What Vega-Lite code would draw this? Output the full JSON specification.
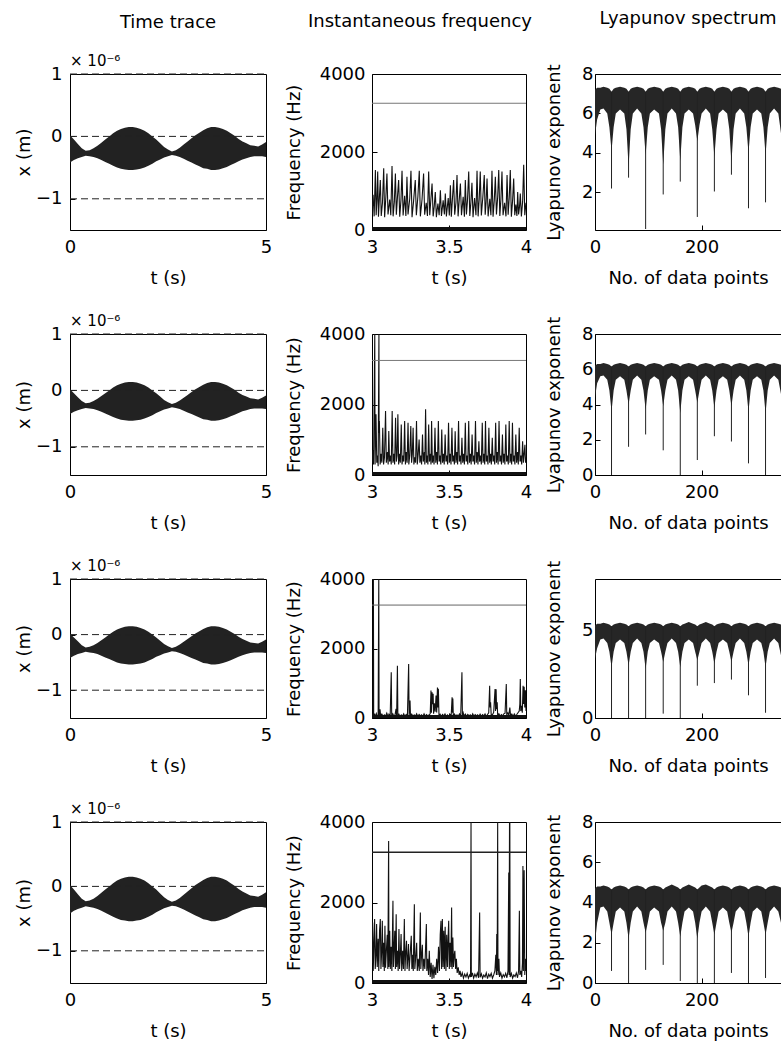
{
"$schema": "https://vega.github.io/schema/vega-lite/v6.json",
"background": "white",
"padding": {"left": 14, "top": 9, "right": 0, "bottom": 2},
"config": {
 "font": "DejaVu Sans",
 "view": {"stroke": "#000", "strokeWidth": 1},
 "axis": {"domain": false, "grid": false, "ticks": true, "tickSize": -5, "tickColor": "#000", "tickWidth": 1, "labelFont": "DejaVu Sans", "labelFontSize": 18, "labelColor": "#000", "titleFont": "DejaVu Sans", "titleFontSize": 18, "titleFontWeight": "normal", "titleColor": "#000", "labelOverlap": false, "labelFlush": false},
 "axisX": {"labelPadding": 13, "minExtent": 26, "maxExtent": 26, "titlePadding": 13},
 "title": {"font": "DejaVu Sans", "fontSize": 18, "fontWeight": "normal", "color": "#000", "frame": "group", "anchor": "middle"}
},
"datasets": {
 "trace": [
  {"t":0.0,"hi":0.02,"lo":-0.42},{"t":0.1,"hi":-0.05,"lo":-0.38},{"t":0.2,"hi":-0.12,"lo":-0.35},{"t":0.3,"hi":-0.19,"lo":-0.33},{"t":0.4,"hi":-0.23,"lo":-0.31},{"t":0.5,"hi":-0.22,"lo":-0.32},{"t":0.6,"hi":-0.19,"lo":-0.33},{"t":0.7,"hi":-0.15,"lo":-0.35},{"t":0.8,"hi":-0.10,"lo":-0.38},{"t":0.9,"hi":-0.05,"lo":-0.41},
  {"t":1.0,"hi":0.00,"lo":-0.44},{"t":1.1,"hi":0.05,"lo":-0.47},{"t":1.2,"hi":0.09,"lo":-0.50},{"t":1.3,"hi":0.12,"lo":-0.52},{"t":1.4,"hi":0.14,"lo":-0.53},{"t":1.5,"hi":0.15,"lo":-0.54},{"t":1.6,"hi":0.15,"lo":-0.54},{"t":1.7,"hi":0.14,"lo":-0.53},{"t":1.8,"hi":0.12,"lo":-0.52},{"t":1.9,"hi":0.09,"lo":-0.50},
  {"t":2.0,"hi":0.05,"lo":-0.47},{"t":2.1,"hi":0.00,"lo":-0.44},{"t":2.2,"hi":-0.05,"lo":-0.40},{"t":2.3,"hi":-0.11,"lo":-0.37},{"t":2.4,"hi":-0.17,"lo":-0.34},{"t":2.5,"hi":-0.21,"lo":-0.32},{"t":2.6,"hi":-0.24,"lo":-0.30},{"t":2.7,"hi":-0.22,"lo":-0.31},{"t":2.8,"hi":-0.18,"lo":-0.33},{"t":2.9,"hi":-0.13,"lo":-0.36},
  {"t":3.0,"hi":-0.08,"lo":-0.39},{"t":3.1,"hi":-0.03,"lo":-0.42},{"t":3.2,"hi":0.02,"lo":-0.45},{"t":3.3,"hi":0.06,"lo":-0.48},{"t":3.4,"hi":0.10,"lo":-0.51},{"t":3.5,"hi":0.13,"lo":-0.52},{"t":3.6,"hi":0.15,"lo":-0.54},{"t":3.7,"hi":0.15,"lo":-0.54},{"t":3.8,"hi":0.14,"lo":-0.53},{"t":3.9,"hi":0.12,"lo":-0.51},
  {"t":4.0,"hi":0.09,"lo":-0.49},{"t":4.1,"hi":0.05,"lo":-0.46},{"t":4.2,"hi":0.01,"lo":-0.43},{"t":4.3,"hi":-0.04,"lo":-0.40},{"t":4.4,"hi":-0.08,"lo":-0.37},{"t":4.5,"hi":-0.11,"lo":-0.35},{"t":4.6,"hi":-0.14,"lo":-0.33},{"t":4.7,"hi":-0.15,"lo":-0.32},{"t":4.8,"hi":-0.16,"lo":-0.32},{"t":4.9,"hi":-0.13,"lo":-0.32},{"t":5.0,"hi":-0.09,"lo":-0.33}
 ],
 "dash": [{"t":0,"d":1},{"t":5,"d":1},{"t":0,"d":0},{"t":5,"d":0},{"t":0,"d":-1},{"t":5,"d":-1}],
 "mult": [{"t":0,"d":1,"label":"× 10⁻⁶"}],
 "osc": [{"t":3,"f":3250},{"t":4,"f":3250}],
 "base": [{"t":3,"f":40},{"t":4,"f":40}],
 "f1": [
  {"t":3.000,"f":400},{"t":3.007,"f":900},{"t":3.014,"f":350},{"t":3.022,"f":1540},{"t":3.027,"f":380},{"t":3.032,"f":760},{"t":3.037,"f":1500},{"t":3.042,"f":340},{"t":3.048,"f":820},{"t":3.054,"f":1280},
  {"t":3.060,"f":360},{"t":3.068,"f":700},{"t":3.076,"f":1580},{"t":3.082,"f":330},{"t":3.090,"f":850},{"t":3.097,"f":1450},{"t":3.104,"f":400},{"t":3.115,"f":780},{"t":3.122,"f":380},{"t":3.130,"f":1640},
  {"t":3.137,"f":350},{"t":3.145,"f":720},{"t":3.152,"f":1450},{"t":3.158,"f":390},{"t":3.165,"f":830},{"t":3.173,"f":1280},{"t":3.180,"f":340},{"t":3.188,"f":760},{"t":3.195,"f":1520},{"t":3.202,"f":370},
  {"t":3.212,"f":880},{"t":3.220,"f":360},{"t":3.227,"f":1365},{"t":3.234,"f":400},{"t":3.245,"f":800},{"t":3.253,"f":1520},{"t":3.260,"f":330},{"t":3.270,"f":740},{"t":3.281,"f":1280},{"t":3.288,"f":380},
  {"t":3.298,"f":860},{"t":3.307,"f":1520},{"t":3.314,"f":350},{"t":3.325,"f":790},{"t":3.335,"f":1450},{"t":3.342,"f":390},{"t":3.352,"f":700},{"t":3.360,"f":360},{"t":3.368,"f":1500},{"t":3.375,"f":380},
  {"t":3.383,"f":820},{"t":3.390,"f":1190},{"t":3.397,"f":350},{"t":3.404,"f":600},{"t":3.411,"f":975},{"t":3.418,"f":330},{"t":3.428,"f":680},{"t":3.436,"f":380},{"t":3.444,"f":1020},{"t":3.451,"f":360},
  {"t":3.462,"f":760},{"t":3.470,"f":400},{"t":3.476,"f":935},{"t":3.483,"f":350},{"t":3.495,"f":820},{"t":3.502,"f":370},{"t":3.509,"f":1150},{"t":3.515,"f":340},{"t":3.522,"f":780},{"t":3.530,"f":1280},
  {"t":3.537,"f":390},{"t":3.545,"f":700},{"t":3.552,"f":1410},{"t":3.559,"f":350},{"t":3.567,"f":800},{"t":3.574,"f":1190},{"t":3.581,"f":380},{"t":3.592,"f":850},{"t":3.600,"f":340},{"t":3.606,"f":1280},
  {"t":3.613,"f":400},{"t":3.620,"f":760},{"t":3.628,"f":1500},{"t":3.635,"f":360},{"t":3.642,"f":700},{"t":3.649,"f":1210},{"t":3.656,"f":330},{"t":3.666,"f":820},{"t":3.675,"f":380},{"t":3.682,"f":1520},
  {"t":3.689,"f":350},{"t":3.696,"f":780},{"t":3.703,"f":1500},{"t":3.710,"f":370},{"t":3.720,"f":860},{"t":3.729,"f":1410},{"t":3.735,"f":390},{"t":3.741,"f":720},{"t":3.747,"f":1320},{"t":3.754,"f":350},
  {"t":3.765,"f":800},{"t":3.772,"f":380},{"t":3.779,"f":1520},{"t":3.786,"f":340},{"t":3.794,"f":760},{"t":3.801,"f":1365},{"t":3.808,"f":400},{"t":3.816,"f":840},{"t":3.823,"f":1540},{"t":3.830,"f":360},
  {"t":3.837,"f":780},{"t":3.844,"f":1500},{"t":3.851,"f":380},{"t":3.861,"f":700},{"t":3.870,"f":350},{"t":3.877,"f":1410},{"t":3.884,"f":390},{"t":3.891,"f":820},{"t":3.898,"f":1540},{"t":3.905,"f":340},
  {"t":3.913,"f":760},{"t":3.920,"f":1320},{"t":3.927,"f":380},{"t":3.934,"f":650},{"t":3.941,"f":360},{"t":3.946,"f":975},{"t":3.952,"f":400},{"t":3.958,"f":600},{"t":3.963,"f":935},{"t":3.970,"f":350},
  {"t":3.978,"f":720},{"t":3.985,"f":1670},{"t":3.992,"f":380},{"t":4.000,"f":700}
 ],
 "f2": [
  {"t":3.000,"f":350},{"t":3.006,"f":700},{"t":3.010,"f":300},{"t":3.018,"f":4000},{"t":3.020,"f":300},{"t":3.026,"f":1722},{"t":3.031,"f":350},{"t":3.036,"f":550},{"t":3.040,"f":250},{"t":3.045,"f":4000},
  {"t":3.046,"f":1200},{"t":3.048,"f":1530},{"t":3.053,"f":300},{"t":3.059,"f":600},{"t":3.064,"f":350},{"t":3.070,"f":1340},{"t":3.075,"f":300},{"t":3.081,"f":500},{"t":3.088,"f":1818},{"t":3.093,"f":350},
  {"t":3.100,"f":650},{"t":3.105,"f":300},{"t":3.109,"f":1250},{"t":3.114,"f":380},{"t":3.120,"f":550},{"t":3.125,"f":300},{"t":3.131,"f":1818},{"t":3.136,"f":350},{"t":3.142,"f":600},{"t":3.147,"f":300},
  {"t":3.153,"f":1627},{"t":3.158,"f":380},{"t":3.163,"f":550},{"t":3.168,"f":1722},{"t":3.173,"f":300},{"t":3.179,"f":600},{"t":3.184,"f":350},{"t":3.190,"f":1435},{"t":3.195,"f":300},{"t":3.201,"f":550},
  {"t":3.206,"f":380},{"t":3.212,"f":1531},{"t":3.217,"f":300},{"t":3.223,"f":650},{"t":3.228,"f":350},{"t":3.234,"f":1483},{"t":3.239,"f":300},{"t":3.245,"f":550},{"t":3.252,"f":1388},{"t":3.257,"f":350},
  {"t":3.262,"f":600},{"t":3.267,"f":1340},{"t":3.272,"f":300},{"t":3.278,"f":500},{"t":3.283,"f":350},{"t":3.289,"f":1531},{"t":3.294,"f":300},{"t":3.300,"f":600},{"t":3.306,"f":1005},{"t":3.311,"f":350},
  {"t":3.317,"f":550},{"t":3.322,"f":300},{"t":3.328,"f":1148},{"t":3.333,"f":380},{"t":3.340,"f":650},{"t":3.343,"f":300},{"t":3.348,"f":1866},{"t":3.353,"f":350},{"t":3.358,"f":550},{"t":3.363,"f":300},
  {"t":3.368,"f":1435},{"t":3.373,"f":380},{"t":3.380,"f":600},{"t":3.383,"f":300},{"t":3.387,"f":1531},{"t":3.392,"f":350},{"t":3.398,"f":550},{"t":3.403,"f":300},{"t":3.409,"f":1340},{"t":3.414,"f":350},
  {"t":3.420,"f":650},{"t":3.425,"f":300},{"t":3.431,"f":1531},{"t":3.436,"f":380},{"t":3.442,"f":550},{"t":3.447,"f":300},{"t":3.453,"f":1290},{"t":3.458,"f":350},{"t":3.464,"f":600},{"t":3.469,"f":300},
  {"t":3.475,"f":1148},{"t":3.480,"f":380},{"t":3.486,"f":550},{"t":3.491,"f":300},{"t":3.497,"f":1483},{"t":3.502,"f":350},{"t":3.508,"f":600},{"t":3.513,"f":300},{"t":3.519,"f":1340},{"t":3.524,"f":380},
  {"t":3.530,"f":550},{"t":3.535,"f":300},{"t":3.540,"f":1244},{"t":3.545,"f":350},{"t":3.551,"f":650},{"t":3.556,"f":300},{"t":3.562,"f":1531},{"t":3.567,"f":380},{"t":3.573,"f":550},{"t":3.578,"f":300},
  {"t":3.584,"f":1053},{"t":3.589,"f":350},{"t":3.595,"f":600},{"t":3.600,"f":300},{"t":3.606,"f":1483},{"t":3.611,"f":380},{"t":3.617,"f":550},{"t":3.622,"f":300},{"t":3.628,"f":1531},{"t":3.633,"f":350},
  {"t":3.639,"f":600},{"t":3.644,"f":300},{"t":3.650,"f":1148},{"t":3.655,"f":380},{"t":3.661,"f":550},{"t":3.666,"f":300},{"t":3.672,"f":1531},{"t":3.677,"f":350},{"t":3.683,"f":650},{"t":3.688,"f":300},
  {"t":3.694,"f":957},{"t":3.699,"f":380},{"t":3.705,"f":550},{"t":3.710,"f":300},{"t":3.716,"f":1483},{"t":3.721,"f":350},{"t":3.727,"f":600},{"t":3.732,"f":300},{"t":3.737,"f":1531},{"t":3.742,"f":380},
  {"t":3.748,"f":550},{"t":3.753,"f":300},{"t":3.759,"f":1340},{"t":3.764,"f":350},{"t":3.770,"f":600},{"t":3.775,"f":300},{"t":3.781,"f":1053},{"t":3.786,"f":380},{"t":3.792,"f":550},{"t":3.797,"f":300},
  {"t":3.803,"f":1483},{"t":3.808,"f":350},{"t":3.814,"f":650},{"t":3.819,"f":300},{"t":3.825,"f":1531},{"t":3.830,"f":380},{"t":3.836,"f":550},{"t":3.841,"f":300},{"t":3.847,"f":1148},{"t":3.852,"f":350},
  {"t":3.858,"f":600},{"t":3.863,"f":300},{"t":3.869,"f":1435},{"t":3.874,"f":380},{"t":3.880,"f":550},{"t":3.885,"f":300},{"t":3.891,"f":1531},{"t":3.896,"f":350},{"t":3.902,"f":600},{"t":3.907,"f":300},
  {"t":3.912,"f":1483},{"t":3.917,"f":380},{"t":3.923,"f":550},{"t":3.928,"f":300},{"t":3.934,"f":1148},{"t":3.939,"f":350},{"t":3.945,"f":650},{"t":3.950,"f":300},{"t":3.956,"f":1340},{"t":3.961,"f":380},
  {"t":3.967,"f":550},{"t":3.972,"f":300},{"t":3.978,"f":957},{"t":3.983,"f":350},{"t":3.988,"f":600},{"t":3.993,"f":860},{"t":3.997,"f":350},{"t":4.000,"f":500}
 ],
 "f3": [
  {"t":3.000,"f":60},{"t":3.004,"f":120},{"t":3.008,"f":40},{"t":3.009,"f":4000},{"t":3.011,"f":30},{"t":3.016,"f":100},{"t":3.022,"f":50},{"t":3.028,"f":130},{"t":3.034,"f":40},{"t":3.040,"f":90},
  {"t":3.044,"f":4000},{"t":3.046,"f":40},{"t":3.052,"f":250},{"t":3.056,"f":60},{"t":3.064,"f":110},{"t":3.072,"f":40},{"t":3.080,"f":90},{"t":3.088,"f":50},{"t":3.096,"f":140},{"t":3.104,"f":40},
  {"t":3.110,"f":110},{"t":3.118,"f":60},{"t":3.125,"f":1314},{"t":3.128,"f":60},{"t":3.135,"f":120},{"t":3.142,"f":50},{"t":3.150,"f":100},{"t":3.156,"f":260},{"t":3.160,"f":60},{"t":3.165,"f":1506},
  {"t":3.168,"f":50},{"t":3.175,"f":110},{"t":3.182,"f":40},{"t":3.190,"f":90},{"t":3.198,"f":50},{"t":3.206,"f":120},{"t":3.214,"f":40},{"t":3.222,"f":100},{"t":3.230,"f":60},{"t":3.238,"f":1554},
  {"t":3.241,"f":60},{"t":3.247,"f":500},{"t":3.250,"f":50},{"t":3.258,"f":110},{"t":3.266,"f":40},{"t":3.274,"f":90},{"t":3.282,"f":50},{"t":3.290,"f":120},{"t":3.298,"f":40},{"t":3.306,"f":100},
  {"t":3.314,"f":60},{"t":3.322,"f":90},{"t":3.330,"f":40},{"t":3.338,"f":120},{"t":3.346,"f":50},{"t":3.354,"f":100},{"t":3.362,"f":60},{"t":3.370,"f":90},{"t":3.378,"f":120},{"t":3.383,"f":790},
  {"t":3.386,"f":150},{"t":3.390,"f":740},{"t":3.393,"f":400},{"t":3.397,"f":700},{"t":3.400,"f":120},{"t":3.405,"f":420},{"t":3.410,"f":180},{"t":3.416,"f":650},{"t":3.420,"f":160},{"t":3.425,"f":880},
  {"t":3.428,"f":300},{"t":3.431,"f":840},{"t":3.435,"f":80},{"t":3.442,"f":110},{"t":3.450,"f":40},{"t":3.458,"f":100},{"t":3.466,"f":60},{"t":3.474,"f":120},{"t":3.482,"f":40},{"t":3.490,"f":90},
  {"t":3.498,"f":50},{"t":3.506,"f":110},{"t":3.514,"f":60},{"t":3.520,"f":595},{"t":3.523,"f":150},{"t":3.525,"f":560},{"t":3.528,"f":60},{"t":3.536,"f":110},{"t":3.544,"f":40},{"t":3.552,"f":90},
  {"t":3.560,"f":50},{"t":3.568,"f":120},{"t":3.576,"f":60},{"t":3.584,"f":1314},{"t":3.587,"f":80},{"t":3.592,"f":150},{"t":3.598,"f":50},{"t":3.606,"f":110},{"t":3.614,"f":40},{"t":3.622,"f":100},
  {"t":3.630,"f":60},{"t":3.638,"f":90},{"t":3.646,"f":40},{"t":3.654,"f":120},{"t":3.662,"f":50},{"t":3.670,"f":100},{"t":3.678,"f":60},{"t":3.686,"f":90},{"t":3.694,"f":40},{"t":3.702,"f":110},
  {"t":3.710,"f":50},{"t":3.718,"f":100},{"t":3.726,"f":60},{"t":3.734,"f":120},{"t":3.742,"f":40},{"t":3.750,"f":100},{"t":3.758,"f":150},{"t":3.764,"f":930},{"t":3.767,"f":300},{"t":3.770,"f":450},
  {"t":3.774,"f":100},{"t":3.782,"f":90},{"t":3.790,"f":160},{"t":3.799,"f":835},{"t":3.802,"f":200},{"t":3.806,"f":830},{"t":3.809,"f":250},{"t":3.813,"f":450},{"t":3.816,"f":80},{"t":3.824,"f":120},
  {"t":3.832,"f":50},{"t":3.840,"f":100},{"t":3.848,"f":60},{"t":3.856,"f":120},{"t":3.864,"f":140},{"t":3.872,"f":978},{"t":3.875,"f":100},{"t":3.882,"f":150},{"t":3.888,"f":60},{"t":3.895,"f":300},
  {"t":3.900,"f":60},{"t":3.908,"f":110},{"t":3.916,"f":40},{"t":3.924,"f":120},{"t":3.932,"f":60},{"t":3.940,"f":100},{"t":3.948,"f":150},{"t":3.956,"f":200},{"t":3.960,"f":400},{"t":3.963,"f":1122},
  {"t":3.966,"f":200},{"t":3.972,"f":350},{"t":3.976,"f":150},{"t":3.981,"f":930},{"t":3.984,"f":400},{"t":3.988,"f":900},{"t":3.992,"f":300},{"t":3.996,"f":800},{"t":4.000,"f":200}
 ],
 "f4": [
  {"t":3.000,"f":500},{"t":3.004,"f":1500},{"t":3.008,"f":300},{"t":3.012,"f":900},{"t":3.017,"f":1587},{"t":3.021,"f":350},{"t":3.026,"f":700},{"t":3.030,"f":1463},{"t":3.034,"f":400},{"t":3.040,"f":1100},
  {"t":3.044,"f":300},{"t":3.049,"f":1300},{"t":3.054,"f":1587},{"t":3.058,"f":350},{"t":3.063,"f":800},{"t":3.067,"f":1545},{"t":3.071,"f":400},{"t":3.076,"f":1000},{"t":3.080,"f":300},{"t":3.084,"f":1421},
  {"t":3.088,"f":380},{"t":3.094,"f":850},{"t":3.099,"f":1200},{"t":3.103,"f":350},{"t":3.108,"f":3529},{"t":3.110,"f":400},{"t":3.115,"f":1300},{"t":3.119,"f":350},{"t":3.124,"f":900},{"t":3.129,"f":300},
  {"t":3.136,"f":2041},{"t":3.139,"f":400},{"t":3.144,"f":900},{"t":3.148,"f":1300},{"t":3.152,"f":350},{"t":3.157,"f":1710},{"t":3.160,"f":400},{"t":3.166,"f":800},{"t":3.170,"f":300},{"t":3.175,"f":1339},
  {"t":3.179,"f":350},{"t":3.184,"f":700},{"t":3.189,"f":1215},{"t":3.193,"f":300},{"t":3.199,"f":800},{"t":3.204,"f":350},{"t":3.210,"f":1587},{"t":3.214,"f":300},{"t":3.219,"f":750},{"t":3.224,"f":1050},
  {"t":3.228,"f":350},{"t":3.233,"f":650},{"t":3.237,"f":967},{"t":3.241,"f":300},{"t":3.246,"f":600},{"t":3.255,"f":1174},{"t":3.259,"f":350},{"t":3.264,"f":700},{"t":3.268,"f":300},{"t":3.275,"f":1959},
  {"t":3.278,"f":350},{"t":3.284,"f":650},{"t":3.290,"f":1000},{"t":3.294,"f":300},{"t":3.300,"f":600},{"t":3.307,"f":300},{"t":3.314,"f":1752},{"t":3.317,"f":350},{"t":3.322,"f":700},{"t":3.327,"f":950},
  {"t":3.331,"f":300},{"t":3.337,"f":600},{"t":3.343,"f":350},{"t":3.348,"f":900},{"t":3.353,"f":1463},{"t":3.356,"f":300},{"t":3.362,"f":600},{"t":3.367,"f":200},{"t":3.372,"f":800},{"t":3.378,"f":150},
  {"t":3.384,"f":500},{"t":3.390,"f":100},{"t":3.396,"f":450},{"t":3.402,"f":120},{"t":3.408,"f":400},{"t":3.414,"f":200},{"t":3.420,"f":600},{"t":3.426,"f":250},{"t":3.432,"f":900},{"t":3.438,"f":300},
  {"t":3.443,"f":1200},{"t":3.448,"f":1545},{"t":3.452,"f":350},{"t":3.457,"f":1587},{"t":3.461,"f":400},{"t":3.466,"f":1300},{"t":3.470,"f":350},{"t":3.475,"f":1400},{"t":3.480,"f":300},{"t":3.485,"f":1200},
  {"t":3.490,"f":400},{"t":3.494,"f":1100},{"t":3.498,"f":1545},{"t":3.502,"f":350},{"t":3.507,"f":1000},{"t":3.512,"f":400},{"t":3.517,"f":1876},{"t":3.520,"f":350},{"t":3.525,"f":1132},{"t":3.529,"f":400},
  {"t":3.534,"f":700},{"t":3.538,"f":800},{"t":3.543,"f":350},{"t":3.548,"f":600},{"t":3.553,"f":250},{"t":3.560,"f":388},{"t":3.566,"f":200},{"t":3.572,"f":300},{"t":3.578,"f":150},{"t":3.586,"f":250},
  {"t":3.594,"f":120},{"t":3.602,"f":220},{"t":3.610,"f":150},{"t":3.618,"f":240},{"t":3.626,"f":120},{"t":3.634,"f":200},{"t":3.640,"f":150},{"t":3.643,"f":4000},{"t":3.645,"f":150},{"t":3.652,"f":250},
  {"t":3.660,"f":120},{"t":3.668,"f":220},{"t":3.676,"f":150},{"t":3.684,"f":250},{"t":3.692,"f":130},{"t":3.699,"f":1752},{"t":3.702,"f":140},{"t":3.710,"f":230},{"t":3.718,"f":120},{"t":3.726,"f":200},
  {"t":3.734,"f":150},{"t":3.742,"f":250},{"t":3.750,"f":110},{"t":3.758,"f":220},{"t":3.766,"f":160},{"t":3.774,"f":240},{"t":3.782,"f":120},{"t":3.790,"f":200},{"t":3.798,"f":300},{"t":3.804,"f":700},
  {"t":3.808,"f":200},{"t":3.810,"f":1215},{"t":3.813,"f":300},{"t":3.816,"f":4000},{"t":3.818,"f":200},{"t":3.824,"f":600},{"t":3.828,"f":150},{"t":3.836,"f":250},{"t":3.844,"f":120},{"t":3.852,"f":210},
  {"t":3.860,"f":150},{"t":3.868,"f":240},{"t":3.876,"f":130},{"t":3.883,"f":300},{"t":3.888,"f":2744},{"t":3.890,"f":200},{"t":3.893,"f":4000},{"t":3.895,"f":4000},{"t":3.897,"f":150},{"t":3.905,"f":240},
  {"t":3.913,"f":120},{"t":3.921,"f":200},{"t":3.929,"f":160},{"t":3.937,"f":250},{"t":3.945,"f":130},{"t":3.952,"f":300},{"t":3.957,"f":1793},{"t":3.960,"f":200},{"t":3.966,"f":300},{"t":3.972,"f":150},
  {"t":3.977,"f":500},{"t":3.980,"f":2909},{"t":3.983,"f":300},{"t":3.988,"f":2800},{"t":3.992,"f":200},{"t":3.996,"f":600},{"t":4.000,"f":300}
 ],
 "ly1": [
  {"n":0,"lo":4.9,"hi":7.2},{"n":4,"lo":5.7,"hi":7.3},{"n":10,"lo":6.2,"hi":7.3},{"n":16,"lo":6.25,"hi":7.35},{"n":23,"lo":6.0,"hi":7.3},{"n":27,"lo":5.3,"hi":7.25},{"n":31,"lo":4.1,"hi":7.1,"s":2.2},{"n":35,"lo":5.3,"hi":7.25},{"n":39,"lo":6.0,"hi":7.3},{"n":47,"lo":6.2,"hi":7.35},
  {"n":55,"lo":6.0,"hi":7.3},{"n":59,"lo":5.2,"hi":7.25},{"n":63,"lo":3.3,"hi":7.1,"s":2.75},{"n":67,"lo":5.2,"hi":7.25},{"n":71,"lo":6.0,"hi":7.3},{"n":79,"lo":6.25,"hi":7.35},{"n":87,"lo":6.0,"hi":7.3},{"n":91,"lo":5.3,"hi":7.25},{"n":95,"lo":3.9,"hi":7.1,"s":0.15},{"n":99,"lo":5.3,"hi":7.25},
  {"n":103,"lo":6.0,"hi":7.3},{"n":111,"lo":6.2,"hi":7.35},{"n":120,"lo":6.0,"hi":7.3},{"n":124,"lo":5.2,"hi":7.25},{"n":128,"lo":3.4,"hi":7.1,"s":1.9},{"n":132,"lo":5.2,"hi":7.25},{"n":136,"lo":6.0,"hi":7.3},{"n":144,"lo":6.25,"hi":7.35},{"n":152,"lo":6.0,"hi":7.3},{"n":156,"lo":5.3,"hi":7.25},
  {"n":160,"lo":3.6,"hi":7.1,"s":2.55},{"n":164,"lo":5.3,"hi":7.25},{"n":168,"lo":6.0,"hi":7.3},{"n":176,"lo":6.2,"hi":7.35},{"n":184,"lo":6.0,"hi":7.3},{"n":188,"lo":5.4,"hi":7.25},{"n":192,"lo":4.6,"hi":7.1,"s":0.76},{"n":196,"lo":5.4,"hi":7.25},{"n":200,"lo":6.0,"hi":7.3},{"n":208,"lo":6.25,"hi":7.35},
  {"n":216,"lo":6.0,"hi":7.3},{"n":220,"lo":5.2,"hi":7.25},{"n":224,"lo":3.8,"hi":7.1,"s":2.05},{"n":228,"lo":5.2,"hi":7.25},{"n":232,"lo":6.0,"hi":7.3},{"n":240,"lo":6.2,"hi":7.35},{"n":248,"lo":6.0,"hi":7.3},{"n":252,"lo":5.2,"hi":7.25},{"n":256,"lo":3.5,"hi":7.1,"s":2.9},{"n":260,"lo":5.2,"hi":7.25},
  {"n":264,"lo":6.0,"hi":7.3},{"n":272,"lo":6.25,"hi":7.35},{"n":280,"lo":6.0,"hi":7.3},{"n":284,"lo":5.3,"hi":7.25},{"n":288,"lo":4.0,"hi":7.1,"s":1.2},{"n":292,"lo":5.3,"hi":7.25},{"n":296,"lo":6.0,"hi":7.3},{"n":304,"lo":6.2,"hi":7.35},{"n":312,"lo":6.0,"hi":7.3},{"n":316,"lo":5.3,"hi":7.25},
  {"n":320,"lo":3.9,"hi":7.1,"s":1.5},{"n":324,"lo":5.3,"hi":7.25},{"n":328,"lo":6.0,"hi":7.3},{"n":336,"lo":6.25,"hi":7.35},{"n":344,"lo":6.0,"hi":7.3},{"n":349,"lo":5.0,"hi":7.25}
 ],
 "ly2": [
  {"n":0,"lo":4.4,"hi":6.2},{"n":4,"lo":5.2,"hi":6.3},{"n":10,"lo":5.6,"hi":6.3},{"n":16,"lo":5.65,"hi":6.35},{"n":23,"lo":5.4,"hi":6.3},{"n":27,"lo":4.8,"hi":6.25},{"n":31,"lo":3.6,"hi":6.15,"s":0},{"n":35,"lo":4.8,"hi":6.25},{"n":39,"lo":5.4,"hi":6.3},{"n":47,"lo":5.6,"hi":6.35},
  {"n":55,"lo":5.4,"hi":6.3},{"n":59,"lo":4.8,"hi":6.25},{"n":63,"lo":4.0,"hi":6.15,"s":1.6},{"n":67,"lo":4.8,"hi":6.25},{"n":71,"lo":5.4,"hi":6.3},{"n":79,"lo":5.65,"hi":6.35},{"n":87,"lo":5.4,"hi":6.3},{"n":91,"lo":4.8,"hi":6.25},{"n":95,"lo":3.7,"hi":6.15,"s":2.3},{"n":99,"lo":4.8,"hi":6.25},
  {"n":103,"lo":5.4,"hi":6.3},{"n":111,"lo":5.6,"hi":6.35},{"n":120,"lo":5.4,"hi":6.3},{"n":124,"lo":4.8,"hi":6.25},{"n":128,"lo":3.9,"hi":6.15,"s":1.4},{"n":132,"lo":4.8,"hi":6.25},{"n":136,"lo":5.4,"hi":6.3},{"n":144,"lo":5.65,"hi":6.35},{"n":152,"lo":5.4,"hi":6.3},{"n":156,"lo":4.8,"hi":6.25},
  {"n":160,"lo":3.5,"hi":6.15,"s":0},{"n":164,"lo":4.8,"hi":6.25},{"n":168,"lo":5.4,"hi":6.3},{"n":176,"lo":5.6,"hi":6.35},{"n":184,"lo":5.4,"hi":6.3},{"n":188,"lo":4.8,"hi":6.25},{"n":192,"lo":4.1,"hi":6.15,"s":0.85},{"n":196,"lo":4.8,"hi":6.25},{"n":200,"lo":5.4,"hi":6.3},{"n":208,"lo":5.65,"hi":6.35},
  {"n":216,"lo":5.4,"hi":6.3},{"n":220,"lo":4.8,"hi":6.25},{"n":224,"lo":3.8,"hi":6.15,"s":2.2},{"n":228,"lo":4.8,"hi":6.25},{"n":232,"lo":5.4,"hi":6.3},{"n":240,"lo":5.6,"hi":6.35},{"n":248,"lo":5.4,"hi":6.3},{"n":252,"lo":4.8,"hi":6.25},{"n":256,"lo":3.9,"hi":6.15,"s":1.9},{"n":260,"lo":4.8,"hi":6.25},
  {"n":264,"lo":5.4,"hi":6.3},{"n":272,"lo":5.65,"hi":6.35},{"n":280,"lo":5.4,"hi":6.3},{"n":284,"lo":4.8,"hi":6.25},{"n":288,"lo":3.6,"hi":6.15,"s":0.66},{"n":292,"lo":4.8,"hi":6.25},{"n":296,"lo":5.4,"hi":6.3},{"n":304,"lo":5.6,"hi":6.35},{"n":312,"lo":5.4,"hi":6.3},{"n":316,"lo":4.8,"hi":6.25},
  {"n":320,"lo":3.5,"hi":6.15,"s":0},{"n":324,"lo":4.8,"hi":6.25},{"n":328,"lo":5.4,"hi":6.3},{"n":336,"lo":5.65,"hi":6.35},{"n":344,"lo":5.4,"hi":6.3},{"n":349,"lo":4.6,"hi":6.25}
 ],
 "ly3": [
  {"n":0,"lo":3.4,"hi":5.3},{"n":4,"lo":4.0,"hi":5.4},{"n":10,"lo":4.5,"hi":5.4},{"n":16,"lo":4.55,"hi":5.45},{"n":23,"lo":4.3,"hi":5.4},{"n":27,"lo":3.8,"hi":5.35},{"n":31,"lo":2.9,"hi":5.25,"s":0},{"n":35,"lo":3.8,"hi":5.35},{"n":39,"lo":4.3,"hi":5.4},{"n":47,"lo":4.5,"hi":5.45},
  {"n":55,"lo":4.3,"hi":5.4},{"n":59,"lo":3.8,"hi":5.35},{"n":63,"lo":3.0,"hi":5.25,"s":0},{"n":67,"lo":3.8,"hi":5.35},{"n":71,"lo":4.3,"hi":5.4},{"n":79,"lo":4.55,"hi":5.45},{"n":87,"lo":4.3,"hi":5.4},{"n":91,"lo":3.8,"hi":5.35},{"n":95,"lo":2.8,"hi":5.25,"s":0},{"n":99,"lo":3.8,"hi":5.35},
  {"n":103,"lo":4.3,"hi":5.4},{"n":111,"lo":4.5,"hi":5.45},{"n":120,"lo":4.3,"hi":5.4},{"n":124,"lo":3.8,"hi":5.35},{"n":128,"lo":3.2,"hi":5.25,"s":0.25},{"n":132,"lo":3.8,"hi":5.35},{"n":136,"lo":4.3,"hi":5.4},{"n":144,"lo":4.55,"hi":5.45},{"n":152,"lo":4.3,"hi":5.4},{"n":156,"lo":3.8,"hi":5.35},
  {"n":160,"lo":2.9,"hi":5.25,"s":0},{"n":164,"lo":3.8,"hi":5.35},{"n":168,"lo":4.3,"hi":5.4},{"n":176,"lo":4.5,"hi":5.5},{"n":184,"lo":4.3,"hi":5.4},{"n":188,"lo":3.8,"hi":5.35},{"n":192,"lo":3.3,"hi":5.25,"s":1.85},{"n":196,"lo":3.8,"hi":5.35},{"n":200,"lo":4.3,"hi":5.4},{"n":208,"lo":4.55,"hi":5.5},
  {"n":216,"lo":4.3,"hi":5.4},{"n":220,"lo":3.8,"hi":5.35},{"n":224,"lo":3.1,"hi":5.25,"s":2.0},{"n":228,"lo":3.8,"hi":5.35},{"n":232,"lo":4.3,"hi":5.4},{"n":240,"lo":4.5,"hi":5.45},{"n":248,"lo":4.3,"hi":5.4},{"n":252,"lo":3.8,"hi":5.35},{"n":256,"lo":3.2,"hi":5.25,"s":2.2},{"n":260,"lo":3.8,"hi":5.35},
  {"n":264,"lo":4.3,"hi":5.4},{"n":272,"lo":4.55,"hi":5.45},{"n":280,"lo":4.3,"hi":5.4},{"n":284,"lo":3.8,"hi":5.35},{"n":288,"lo":3.0,"hi":5.25,"s":1.3},{"n":292,"lo":3.8,"hi":5.35},{"n":296,"lo":4.3,"hi":5.4},{"n":304,"lo":4.5,"hi":5.45},{"n":312,"lo":4.3,"hi":5.4},{"n":316,"lo":3.8,"hi":5.35},
  {"n":320,"lo":2.9,"hi":5.25,"s":0.3},{"n":324,"lo":3.8,"hi":5.35},{"n":328,"lo":4.3,"hi":5.4},{"n":336,"lo":4.55,"hi":5.45},{"n":344,"lo":4.3,"hi":5.4},{"n":349,"lo":3.6,"hi":5.35}
 ],
 "ly4": [
  {"n":0,"lo":2.0,"hi":4.7},{"n":4,"lo":3.0,"hi":4.8},{"n":10,"lo":3.75,"hi":4.8},{"n":16,"lo":3.8,"hi":4.85},{"n":23,"lo":3.55,"hi":4.8},{"n":27,"lo":3.0,"hi":4.75},{"n":31,"lo":2.4,"hi":4.65,"s":0.6},{"n":35,"lo":3.0,"hi":4.75},{"n":39,"lo":3.55,"hi":4.8},{"n":47,"lo":3.75,"hi":4.85},
  {"n":55,"lo":3.55,"hi":4.8},{"n":59,"lo":3.0,"hi":4.75},{"n":63,"lo":2.2,"hi":4.65,"s":0},{"n":67,"lo":3.0,"hi":4.75},{"n":71,"lo":3.55,"hi":4.8},{"n":79,"lo":3.8,"hi":4.85},{"n":87,"lo":3.55,"hi":4.8},{"n":91,"lo":3.0,"hi":4.75},{"n":95,"lo":2.5,"hi":4.65,"s":0.65},{"n":99,"lo":3.0,"hi":4.75},
  {"n":103,"lo":3.55,"hi":4.8},{"n":111,"lo":3.75,"hi":4.85},{"n":120,"lo":3.55,"hi":4.8},{"n":124,"lo":3.0,"hi":4.75},{"n":128,"lo":2.6,"hi":4.65,"s":0.9},{"n":132,"lo":3.0,"hi":4.75},{"n":136,"lo":3.55,"hi":4.8},{"n":144,"lo":3.8,"hi":4.9},{"n":152,"lo":3.55,"hi":4.8},{"n":156,"lo":3.0,"hi":4.75},
  {"n":160,"lo":2.3,"hi":4.65,"s":0.1},{"n":164,"lo":3.0,"hi":4.75},{"n":168,"lo":3.55,"hi":4.8},{"n":176,"lo":3.75,"hi":4.9},{"n":184,"lo":3.55,"hi":4.8},{"n":188,"lo":3.0,"hi":4.75},{"n":192,"lo":2.2,"hi":4.65,"s":0},{"n":196,"lo":3.0,"hi":4.75},{"n":200,"lo":3.55,"hi":4.85},{"n":208,"lo":3.8,"hi":4.9},
  {"n":216,"lo":3.55,"hi":4.8},{"n":220,"lo":3.0,"hi":4.75},{"n":224,"lo":2.4,"hi":4.65,"s":0},{"n":228,"lo":3.0,"hi":4.75},{"n":232,"lo":3.55,"hi":4.8},{"n":240,"lo":3.75,"hi":4.85},{"n":248,"lo":3.55,"hi":4.8},{"n":252,"lo":3.0,"hi":4.75},{"n":256,"lo":2.5,"hi":4.65,"s":0.5},{"n":260,"lo":3.0,"hi":4.75},
  {"n":264,"lo":3.55,"hi":4.8},{"n":272,"lo":3.8,"hi":4.85},{"n":280,"lo":3.55,"hi":4.8},{"n":284,"lo":3.0,"hi":4.75},{"n":288,"lo":2.3,"hi":4.65,"s":0},{"n":292,"lo":3.0,"hi":4.75},{"n":296,"lo":3.55,"hi":4.8},{"n":304,"lo":3.75,"hi":4.85},{"n":312,"lo":3.55,"hi":4.8},{"n":316,"lo":3.0,"hi":4.75},
  {"n":320,"lo":2.4,"hi":4.65,"s":0.25},{"n":324,"lo":3.0,"hi":4.75},{"n":328,"lo":3.55,"hi":4.8},{"n":336,"lo":3.8,"hi":4.85},{"n":344,"lo":3.55,"hi":4.8},{"n":349,"lo":3.0,"hi":4.75}
 ]
},
"columns": 3,
"align": "each",
"spacing": {"row": 25, "column": 11},
"concat": [
 {"width": 196, "height": 156, "title": {"text": "Time trace", "offset": 22},
  "encoding": {
   "x": {"field": "t", "type": "quantitative", "scale": {"domain": [0,5], "nice": false}, "axis": {"values": [0,5], "title": "t (s)"}},
   "y": {"field": "d", "type": "quantitative", "scale": {"domain": [-1.5,1], "nice": false, "zero": false}, "axis": {"values": [-1,0,1], "format": "d", "title": "x (m)", "minExtent": 34, "maxExtent": 34, "titlePadding": 3, "labelPadding": 13}}},
  "layer": [
   {"data": {"name": "trace"}, "mark": {"type": "area", "color": "#222", "clip": true}, "encoding": {"y": {"field": "lo"}, "y2": {"field": "hi"}}},
   {"data": {"name": "dash"}, "mark": {"type": "line", "strokeDash": [7,4], "color": "#222", "strokeWidth": 1}, "encoding": {"detail": {"field": "d"}}},
   {"data": {"name": "mult"}, "mark": {"type": "text", "align": "left", "baseline": "alphabetic", "dy": -8, "fontSize": 15, "font": "DejaVu Sans", "color": "#000"}, "encoding": {"text": {"field": "label"}}}
  ]},
 {"width": 154, "height": 156, "title": {"text": "Instantaneous frequency", "offset": 34, "dx": -29},
  "encoding": {
   "x": {"field": "t", "type": "quantitative", "scale": {"domain": [3,4], "nice": false, "zero": false}, "axis": {"values": [3,3.5,4], "format": "~g", "title": "t (s)"}},
   "y": {"field": "f", "type": "quantitative", "scale": {"domain": [0,4000], "nice": false}, "axis": {"values": [0,2000,4000], "format": "d", "title": "Frequency (Hz)", "minExtent": 53, "maxExtent": 53, "titlePadding": 16, "labelPadding": 12}}},
  "layer": [
   {"data": {"name": "f1"}, "mark": {"type": "line", "color": "#111", "strokeWidth": 1.1, "clip": true}},
   {"data": {"name": "osc"}, "mark": {"type": "line", "color": "#777", "strokeWidth": 1}},
   {"data": {"name": "base"}, "mark": {"type": "line", "color": "#111", "strokeWidth": 3}}
  ]},
 {"width": 186, "height": 156, "title": {"text": "Lyapunov spectrum", "offset": 36},
  "encoding": {
   "x": {"field": "n", "type": "quantitative", "scale": {"domain": [0,349], "nice": false}, "axis": {"values": [0,200], "title": "No. of data points"}},
   "y": {"field": "lo", "type": "quantitative", "scale": {"domain": [0.1,8], "nice": false, "zero": false}, "axis": {"values": [2,4,6,8], "title": "Lyapunov exponent", "minExtent": 14, "maxExtent": 14, "titlePadding": 18, "labelPadding": 7}}},
  "layer": [
   {"data": {"name": "ly1"}, "mark": {"type": "area", "color": "#262626", "clip": true}, "encoding": {"y2": {"field": "hi"}}},
   {"data": {"name": "ly1"}, "mark": {"type": "rule", "color": "#222", "strokeWidth": 1, "clip": true}, "encoding": {"y": {"field": "s"}, "y2": {"field": "hi"}}}
  ]},
 {"width": 196, "height": 141,
  "encoding": {
   "x": {"field": "t", "type": "quantitative", "scale": {"domain": [0,5], "nice": false}, "axis": {"values": [0,5], "title": "t (s)"}},
   "y": {"field": "d", "type": "quantitative", "scale": {"domain": [-1.5,1], "nice": false, "zero": false}, "axis": {"values": [-1,0,1], "format": "d", "title": "x (m)", "minExtent": 34, "maxExtent": 34, "titlePadding": 3, "labelPadding": 13}}},
  "layer": [
   {"data": {"name": "trace"}, "mark": {"type": "area", "color": "#222", "clip": true}, "encoding": {"y": {"field": "lo"}, "y2": {"field": "hi"}}},
   {"data": {"name": "dash"}, "mark": {"type": "line", "strokeDash": [7,4], "color": "#222", "strokeWidth": 1}, "encoding": {"detail": {"field": "d"}}},
   {"data": {"name": "mult"}, "mark": {"type": "text", "align": "left", "baseline": "alphabetic", "dy": -8, "fontSize": 15, "font": "DejaVu Sans", "color": "#000"}, "encoding": {"text": {"field": "label"}}}
  ]},
 {"width": 154, "height": 141,
  "encoding": {
   "x": {"field": "t", "type": "quantitative", "scale": {"domain": [3,4], "nice": false, "zero": false}, "axis": {"values": [3,3.5,4], "format": "~g", "title": "t (s)"}},
   "y": {"field": "f", "type": "quantitative", "scale": {"domain": [0,4000], "nice": false}, "axis": {"values": [0,2000,4000], "format": "d", "title": "Frequency (Hz)", "minExtent": 53, "maxExtent": 53, "titlePadding": 16, "labelPadding": 12}}},
  "layer": [
   {"data": {"name": "f2"}, "mark": {"type": "line", "color": "#111", "strokeWidth": 1.1, "clip": true}},
   {"data": {"name": "osc"}, "mark": {"type": "line", "color": "#777", "strokeWidth": 1}},
   {"data": {"name": "base"}, "mark": {"type": "line", "color": "#111", "strokeWidth": 3}}
  ]},
 {"width": 186, "height": 141,
  "encoding": {
   "x": {"field": "n", "type": "quantitative", "scale": {"domain": [0,349], "nice": false}, "axis": {"values": [0,200], "title": "No. of data points"}},
   "y": {"field": "lo", "type": "quantitative", "scale": {"domain": [0,8], "nice": false, "zero": false}, "axis": {"values": [0,2,4,6,8], "title": "Lyapunov exponent", "minExtent": 14, "maxExtent": 14, "titlePadding": 18, "labelPadding": 7}}},
  "layer": [
   {"data": {"name": "ly2"}, "mark": {"type": "area", "color": "#262626", "clip": true}, "encoding": {"y2": {"field": "hi"}}},
   {"data": {"name": "ly2"}, "mark": {"type": "rule", "color": "#222", "strokeWidth": 1, "clip": true}, "encoding": {"y": {"field": "s"}, "y2": {"field": "hi"}}}
  ]},
 {"width": 196, "height": 139,
  "encoding": {
   "x": {"field": "t", "type": "quantitative", "scale": {"domain": [0,5], "nice": false}, "axis": {"values": [0,5], "title": "t (s)"}},
   "y": {"field": "d", "type": "quantitative", "scale": {"domain": [-1.5,1], "nice": false, "zero": false}, "axis": {"values": [-1,0,1], "format": "d", "title": "x (m)", "minExtent": 34, "maxExtent": 34, "titlePadding": 3, "labelPadding": 13}}},
  "layer": [
   {"data": {"name": "trace"}, "mark": {"type": "area", "color": "#222", "clip": true}, "encoding": {"y": {"field": "lo"}, "y2": {"field": "hi"}}},
   {"data": {"name": "dash"}, "mark": {"type": "line", "strokeDash": [7,4], "color": "#222", "strokeWidth": 1}, "encoding": {"detail": {"field": "d"}}},
   {"data": {"name": "mult"}, "mark": {"type": "text", "align": "left", "baseline": "alphabetic", "dy": -8, "fontSize": 15, "font": "DejaVu Sans", "color": "#000"}, "encoding": {"text": {"field": "label"}}}
  ]},
 {"width": 154, "height": 139,
  "encoding": {
   "x": {"field": "t", "type": "quantitative", "scale": {"domain": [3,4], "nice": false, "zero": false}, "axis": {"values": [3,3.5,4], "format": "~g", "title": "t (s)"}},
   "y": {"field": "f", "type": "quantitative", "scale": {"domain": [0,4000], "nice": false}, "axis": {"values": [0,2000,4000], "format": "d", "title": "Frequency (Hz)", "minExtent": 53, "maxExtent": 53, "titlePadding": 16, "labelPadding": 12}}},
  "layer": [
   {"data": {"name": "f3"}, "mark": {"type": "line", "color": "#111", "strokeWidth": 1.1, "clip": true}},
   {"data": {"name": "osc"}, "mark": {"type": "line", "color": "#666", "strokeWidth": 1}},
   {"data": {"name": "base"}, "mark": {"type": "line", "color": "#111", "strokeWidth": 3}}
  ]},
 {"width": 186, "height": 139,
  "encoding": {
   "x": {"field": "n", "type": "quantitative", "scale": {"domain": [0,349], "nice": false}, "axis": {"values": [0,200], "title": "No. of data points"}},
   "y": {"field": "lo", "type": "quantitative", "scale": {"domain": [0,7.96], "nice": false, "zero": false}, "axis": {"values": [0,5], "title": "Lyapunov exponent", "minExtent": 14, "maxExtent": 14, "titlePadding": 18, "labelPadding": 7}}},
  "layer": [
   {"data": {"name": "ly3"}, "mark": {"type": "area", "color": "#262626", "clip": true}, "encoding": {"y2": {"field": "hi"}}},
   {"data": {"name": "ly3"}, "mark": {"type": "rule", "color": "#222", "strokeWidth": 1, "clip": true}, "encoding": {"y": {"field": "s"}, "y2": {"field": "hi"}}}
  ]},
 {"width": 196, "height": 161,
  "encoding": {
   "x": {"field": "t", "type": "quantitative", "scale": {"domain": [0,5], "nice": false}, "axis": {"values": [0,5], "title": "t (s)"}},
   "y": {"field": "d", "type": "quantitative", "scale": {"domain": [-1.5,1], "nice": false, "zero": false}, "axis": {"values": [-1,0,1], "format": "d", "title": "x (m)", "minExtent": 34, "maxExtent": 34, "titlePadding": 3, "labelPadding": 13}}},
  "layer": [
   {"data": {"name": "trace"}, "mark": {"type": "area", "color": "#222", "clip": true}, "encoding": {"y": {"field": "lo"}, "y2": {"field": "hi"}}},
   {"data": {"name": "dash"}, "mark": {"type": "line", "strokeDash": [7,4], "color": "#222", "strokeWidth": 1}, "encoding": {"detail": {"field": "d"}}},
   {"data": {"name": "mult"}, "mark": {"type": "text", "align": "left", "baseline": "alphabetic", "dy": -8, "fontSize": 15, "font": "DejaVu Sans", "color": "#000"}, "encoding": {"text": {"field": "label"}}}
  ]},
 {"width": 154, "height": 161,
  "encoding": {
   "x": {"field": "t", "type": "quantitative", "scale": {"domain": [3,4], "nice": false, "zero": false}, "axis": {"values": [3,3.5,4], "format": "~g", "title": "t (s)"}},
   "y": {"field": "f", "type": "quantitative", "scale": {"domain": [0,4000], "nice": false}, "axis": {"values": [0,2000,4000], "format": "d", "title": "Frequency (Hz)", "minExtent": 53, "maxExtent": 53, "titlePadding": 16, "labelPadding": 12}}},
  "layer": [
   {"data": {"name": "f4"}, "mark": {"type": "line", "color": "#111", "strokeWidth": 1.1, "clip": true}},
   {"data": {"name": "osc"}, "mark": {"type": "line", "color": "#222", "strokeWidth": 1.5}},
   {"data": {"name": "base"}, "mark": {"type": "line", "color": "#111", "strokeWidth": 3}}
  ]},
 {"width": 186, "height": 161,
  "encoding": {
   "x": {"field": "n", "type": "quantitative", "scale": {"domain": [0,349], "nice": false}, "axis": {"values": [0,200], "title": "No. of data points"}},
   "y": {"field": "lo", "type": "quantitative", "scale": {"domain": [0,8], "nice": false, "zero": false}, "axis": {"values": [0,2,4,6,8], "title": "Lyapunov exponent", "minExtent": 14, "maxExtent": 14, "titlePadding": 18, "labelPadding": 7}}},
  "layer": [
   {"data": {"name": "ly4"}, "mark": {"type": "area", "color": "#262626", "clip": true}, "encoding": {"y2": {"field": "hi"}}},
   {"data": {"name": "ly4"}, "mark": {"type": "rule", "color": "#222", "strokeWidth": 1, "clip": true}, "encoding": {"y": {"field": "s"}, "y2": {"field": "hi"}}}
  ]}
]
}
